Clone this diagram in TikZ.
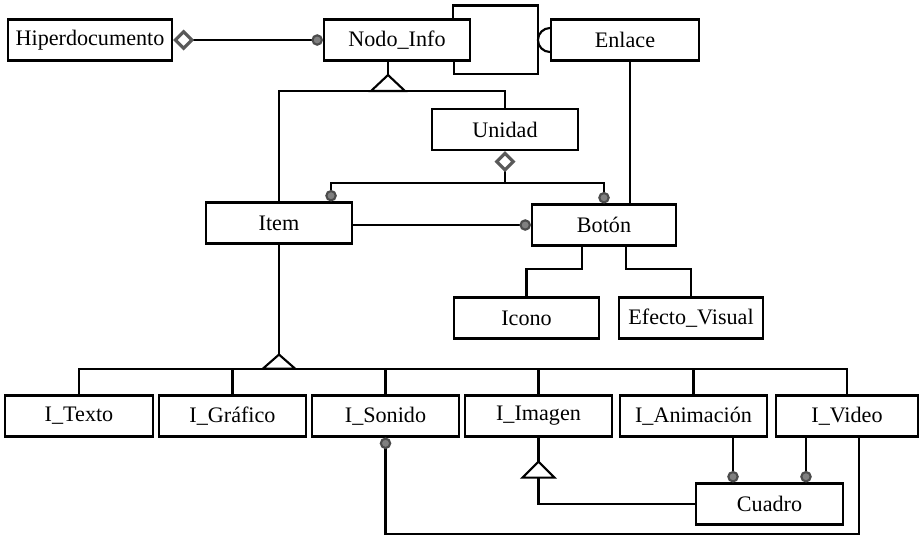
\documentclass[tikz,border=0pt]{standalone}
\usepackage{fontspec}
\setmainfont{Liberation Serif}
\usetikzlibrary{arrows.meta, calc}

\begin{document}
\begin{tikzpicture}[x=0.02cm, y=-0.02cm, line width=1.2pt,
    box/.style={rectangle, draw, text centered, inner sep=1pt, minimum height=0.82cm, font=\fontsize{12.6}{15}\selectfont},
    aggr/.tip={Diamond[open, length=0.42cm, width=0.42cm, line width=1.8pt, color=black!65]},
    dotb/.tip={Circle[length=0.23cm, color=black!70, fill=gray]},
    gen/.style={fill=white}]

    \useasboundingbox (0,0) rectangle (920,535);

    \node (hiper) [box, minimum width=3.28cm] at (90,40) {Hiperdocumento};
    \node (nodo) [box, minimum width=2.92cm] at (397,40) {Nodo\_Info};
    \node (enlace) [box, minimum width=2.96cm] at (625,40) {Enlace};
    \node (unidad) [box, minimum width=2.92cm] at (505,129.5) {Unidad};
    \node (item) [box, minimum width=2.92cm] at (279,223) {Item};
    \node (boton) [box, minimum width=2.88cm] at (604,225) {Botón};
    \node (icono) [box, minimum width=2.9cm] at (526.5,318) {Icono};
    \node (efecto) [box, minimum width=2.88cm] at (691,318) {Efecto\_Visual};
    \node (texto) [box, minimum width=2.96cm] at (79,416) {I\_Texto};
    \node (grafico) [box, minimum width=2.94cm] at (232.5,416) {I\_Gráfico};
    \node (sonido) [box, minimum width=2.94cm] at (385.5,416) {I\_Sonido};
    \node (imagen) [box, minimum width=2.94cm] at (538.5,416) {I\_Imagen};
    \node (animacion) [box, minimum width=2.94cm] at (693.5,416) {I\_Animación};
    \node (video) [box, minimum width=2.84cm] at (847,416) {I\_Video};
    \node (cuadro) [box, minimum width=2.94cm] at (769.5,504) {Cuadro};

    \draw [aggr-dotb] (hiper.east) -- (nodo.west);

    \coordinate (selfR) at (538,40);
    \draw ([xshift=-0.36cm]nodo.north east) -- ++(0,-13) -| (selfR) -- ++(0,34) -| ([xshift=-0.34cm]nodo.south east);
    \draw ([yshift=0.24cm]enlace.west) arc[start angle=90, end angle=270, radius=0.24cm];

    \coordinate (nodoGen) at (388,91);
    \draw (item.north) |- (nodoGen) -| (unidad.north);
    \draw [gen] (nodoGen) ++(-17,0) -- ++(17,-16) -- ++(17,16) -- cycle;
    \draw ($(nodoGen)+(0,-16)$) -- (nodoGen |- nodo.south);

    \coordinate (uniBar) at ($(unidad.south)+(0,32)$);
    \draw [aggr-] (unidad.south) -- (uniBar);
    \draw [-dotb] (uniBar) -| ([xshift=-0.44cm]item.north east);
    \draw [-dotb] (uniBar) -| (boton.north);

    \coordinate (enlB) at ([xshift=0.1cm]enlace.south);
    \draw (enlB) -- (enlB |- boton.north);
    \draw [-dotb] (boton.west -| item.east) -- (boton.west);

    \draw ([xshift=-0.44cm]boton.south) -- ++(0,22) -| (icono.north);
    \draw ([xshift=0.44cm]boton.south) -- ++(0,22) -| (efecto.north);

    \coordinate (itemGen) at ($(item.south)+(0,124)$);
    \draw (texto.north) |- (itemGen) -| (video.north);
    \foreach \n in {grafico, sonido, imagen, animacion}
        \draw (\n.north) -- (\n.north |- itemGen);
    \draw [gen] (itemGen) ++(-16,0) -- ++(16,-14) -- ++(16,14) -- cycle;
    \draw (item.south) -- ($(itemGen)+(0,-14)$);

    \coordinate (sonVid) at ($(video.south)+(12,96)$);
    \draw [dotb-] (sonido.south) |- (sonVid) -- (sonVid |- video.south);

    \coordinate (imgGen) at ($(imagen.south)+(0,40)$);
    \draw (cuadro.west) -| (imgGen);
    \draw [gen] (imgGen) ++(-16,0) -- ++(16,-16) -- ++(16,16) -- cycle;
    \draw (imagen.south) -- ($(imgGen)+(0,-16)$);

    \coordinate (cuaL) at ([xshift=-0.73cm]cuadro.north);
    \coordinate (cuaR) at ([xshift=0.73cm]cuadro.north);
    \draw [-dotb] (cuaL |- animacion.south) -- (cuaL);
    \draw [-dotb] (cuaR |- video.south) -- (cuaR);

\end{tikzpicture}
\end{document}
